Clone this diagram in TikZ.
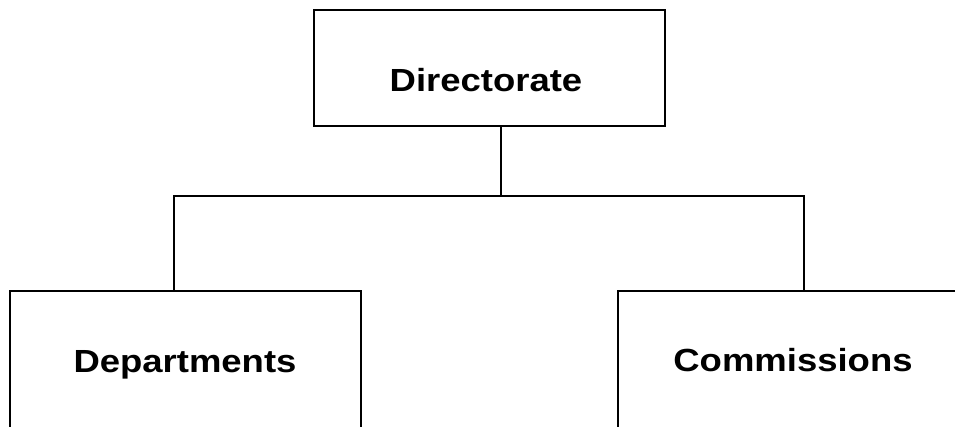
\documentclass[tikz,border=0pt]{standalone}
\usepackage{fontspec}
\usepackage{graphicx}
\setmainfont{Liberation Sans}
\begin{document}
\begin{tikzpicture}[x=1pt,y=1pt,
  orgbox/.style={draw=black, line width=2pt, fill=white, inner sep=0pt, anchor=north west},
  orgtext/.style={anchor=base, inner sep=0pt, font=\fontsize{32}{38}\selectfont\bfseries},
  link/.style={draw=black, line width=2pt}]
  \useasboundingbox (0,0) rectangle (955,426);
  \clip (0,0) rectangle (955,426);
  \fill[white] (0,0) rectangle (955,426);

  % boxes
  \node[orgbox, minimum width=351pt, minimum height=116pt] (dir) at (313,417) {};
  \node[orgbox, minimum width=351pt, minimum height=160pt] (dep) at (9,136) {};
  \node[orgbox, minimum width=360pt, minimum height=160pt] (com) at (617,136) {};

  % labels
  \node[orgtext] (dirt) at (486,334) {\scalebox{1.14}[1]{Directorate}};
  \node[orgtext] (dept) at (185,54) {\scalebox{1.14}[1]{Departments}};
  \node[orgtext] (comt) at (793,55) {\scalebox{1.14}[1]{Commissions}};

  % connectors
  \coordinate (hub) at (501,230);
  \coordinate (ljoin) at (174,230);
  \coordinate (rjoin) at (804,230);
  \draw[link] (dir.south -| hub) -- (hub);
  \draw[link] (dep.north -| ljoin) -- (ljoin) -- (rjoin) -- (com.north -| rjoin);
\end{tikzpicture}
\end{document}
